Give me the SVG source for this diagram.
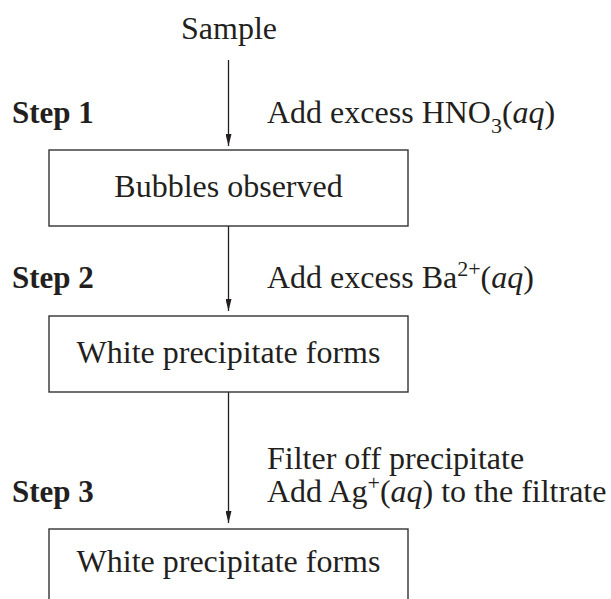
<svg xmlns="http://www.w3.org/2000/svg" width="611" height="599" viewBox="0 0 611 599">
<style>
text{font-family:"Liberation Serif","Times New Roman",serif;font-size:32px;fill:#231f20}
.b{font-weight:bold;font-size:31px}
.m{text-anchor:middle}
.i{font-style:italic}
.s{font-size:22px}
rect{fill:#fff;stroke:#333;stroke-width:1.4}
.c line{stroke:#231f20;stroke-width:1.3}
</style>
<defs>
<marker id="ah" markerWidth="6" markerHeight="12" refX="6" refY="6" orient="auto" markerUnits="userSpaceOnUse" viewBox="0 0 12 6">
<path d="M0,0 L12,3 L0,6 Z" fill="#231f20"/>
</marker>
<marker id="arr" viewBox="0 0 12 6" refX="12" refY="3" markerWidth="12" markerHeight="6" orient="auto" markerUnits="userSpaceOnUse">
<path d="M0,0 L12,3 L0,6 Z" fill="#231f20"/>
</marker>
</defs>
<g id="connectors" class="c">
<line x1="228.5" y1="60" x2="228.5" y2="146" marker-end="url(#arr)"/>
<line x1="228.5" y1="226" x2="228.5" y2="311" marker-end="url(#arr)"/>
<line x1="228.5" y1="392" x2="228.5" y2="523" marker-end="url(#arr)"/>
</g>
<g id="sample"><text class="m" x="229" y="39">Sample</text></g>
<g id="step1">
<text class="b" x="12" y="123">Step 1</text>
<text x="267" y="123">Add excess HNO<tspan class="s" dy="10">3</tspan><tspan dy="-10">(</tspan><tspan class="i">aq</tspan>)</text>
</g>
<g id="box1">
<rect x="49" y="150" width="359" height="76"/>
<text class="m" x="228.5" y="197">Bubbles observed</text>
</g>
<g id="step2">
<text class="b" x="12" y="288">Step 2</text>
<text x="267" y="288">Add excess Ba<tspan class="s" dy="-12">2+</tspan><tspan dy="12">(</tspan><tspan class="i">aq</tspan>)</text>
</g>
<g id="box2">
<rect x="49" y="316" width="359" height="76"/>
<text class="m" x="228.5" y="363">White precipitate forms</text>
</g>
<g id="step3">
<text class="b" x="12" y="502">Step 3</text>
<text x="267" y="469">Filter off precipitate</text>
<text x="267" y="502">Add Ag<tspan class="s" dy="-12">+</tspan><tspan dy="12">(</tspan><tspan class="i">aq</tspan>) to the filtrate</text>
</g>
<g id="box3">
<rect x="49" y="529" width="359" height="76"/>
<text class="m" x="228.5" y="572">White precipitate forms</text>
</g>
</svg>
